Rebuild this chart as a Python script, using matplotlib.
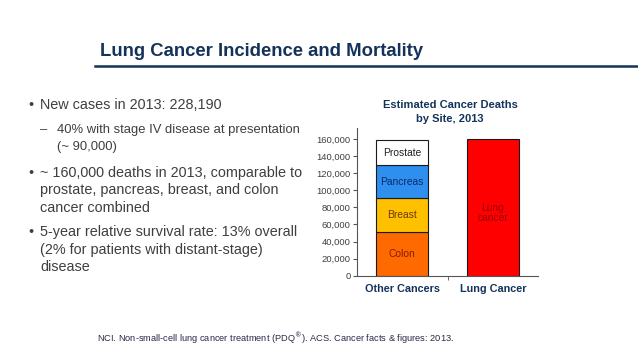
import numpy as np
import matplotlib.pyplot as plt

plt.rcParams['font.family'] = ['Liberation Sans', 'DejaVu Sans']

# stacked deaths for "Other Cancers" (bottom to top), and lung cancer
segments = ["Colon", "Breast", "Pancreas", "Prostate"]
segment_deaths = [50830, 40030, 38460, 29720]
segment_colors = ["#FF6A00", "#FFC000", "#2F8FEF", "#FFFFFF"]
segment_text = ["#8B1A00", "#6B3A00", "#0A2A6B", "#222222"]
lung_deaths = 159480
categories = ["Other Cancers", "Lung Cancer"]
yticks = [0, 20000, 40000, 60000, 80000, 100000, 120000, 140000, 160000]

navy = "#13335A"
gray = "#3F3F3F"

fig = plt.figure(figsize=(6.38, 3.59), dpi=100)
fig.patch.set_facecolor("white")

# slide title and rule
fig.text(100/638, 1 - 52/359, "Lung Cancer Incidence and Mortality", fontsize=13.3,
         fontweight="bold", color=navy, va="center", ha="left")
fig.add_artist(plt.Line2D([95/638, 1.0], [1 - 66/359, 1 - 66/359], color=navy, lw=1.8))

# bullet text
lines = [
    (28, 40, 105, "•", "New cases in 2013: 228,190", 10.4),
    (40, 57, 130, "–", "40% with stage IV disease at presentation", 9.4),
    (None, 57, 147, "", "(~ 90,000)", 9.4),
    (28, 40, 173, "•", "~ 160,000 deaths in 2013, comparable to", 10.4),
    (None, 40, 190, "", "prostate, pancreas, breast, and colon", 10.4),
    (None, 40, 208, "", "cancer combined", 10.4),
    (28, 40, 232, "•", "5-year relative survival rate: 13% overall", 10.4),
    (None, 40, 250, "", "(2% for patients with distant-stage)", 10.4),
    (None, 40, 267, "", "disease", 10.4),
]
for bx, tx, y, sym, txt, fs in lines:
    if bx is not None:
        fig.text(bx/638, 1 - y/359, sym, fontsize=fs, color=gray, va="center", ha="left")
    fig.text(tx/638, 1 - y/359, txt, fontsize=fs, color=gray, va="center", ha="left")

fig.text(97/638, 1 - 338/359,
         "NCI. Non-small-cell lung cancer treatment (PDQ$^{®}$). ACS. Cancer facts & figures: 2013.",
         fontsize=6.7, color="#2A2A4A", va="center", ha="left")

# chart
ax = fig.add_axes([357/638, 1 - 275.7/359, 181/638, 147.8/359])
bottom = 0
for name, val, col, tc in zip(segments, segment_deaths, segment_colors, segment_text):
    ax.bar(0, val, bottom=bottom, width=0.575, color=col, edgecolor="#1A1A1A", linewidth=0.8)
    ax.text(0, bottom + val/2, name, ha="center", va="center", fontsize=7.4, color=tc)
    bottom += val
ax.bar(1, lung_deaths, width=0.575, color="#FF0000", edgecolor="#1A1A1A", linewidth=0.8)
ax.text(1, lung_deaths*0.46, "Lung\ncancer", ha="center", va="center", fontsize=7.4,
        color="#9A0000", linespacing=1.1)

ax.set_xlim(-0.5, 1.5)
ax.set_ylim(0, 173000)
ax.set_yticks(yticks)
ax.set_yticklabels([f"{v:,}" for v in yticks], fontsize=6.8, color=gray)
ax.set_xticks([0, 1])
ax.set_xticklabels(categories, fontsize=7.8, fontweight="bold", color=navy)
ax.set_xticks([0.5], minor=True)
ax.tick_params(axis="x", which="major", length=0, pad=6)
ax.tick_params(axis="x", which="minor", length=3, color="#555555")
ax.tick_params(axis="y", length=3, color="#555555", pad=1.5)
for s in ["top", "right"]:
    ax.spines[s].set_visible(False)
for s in ["left", "bottom"]:
    ax.spines[s].set_color("#555555")
    ax.spines[s].set_linewidth(0.8)
ax.set_facecolor("white")

fig.text(450/638, 1 - 111.5/359, "Estimated Cancer Deaths\nby Site, 2013", fontsize=8,
         fontweight="bold", color=navy, ha="center", va="center", linespacing=1.5)

fig.savefig("out.png", dpi=100, facecolor="white")
